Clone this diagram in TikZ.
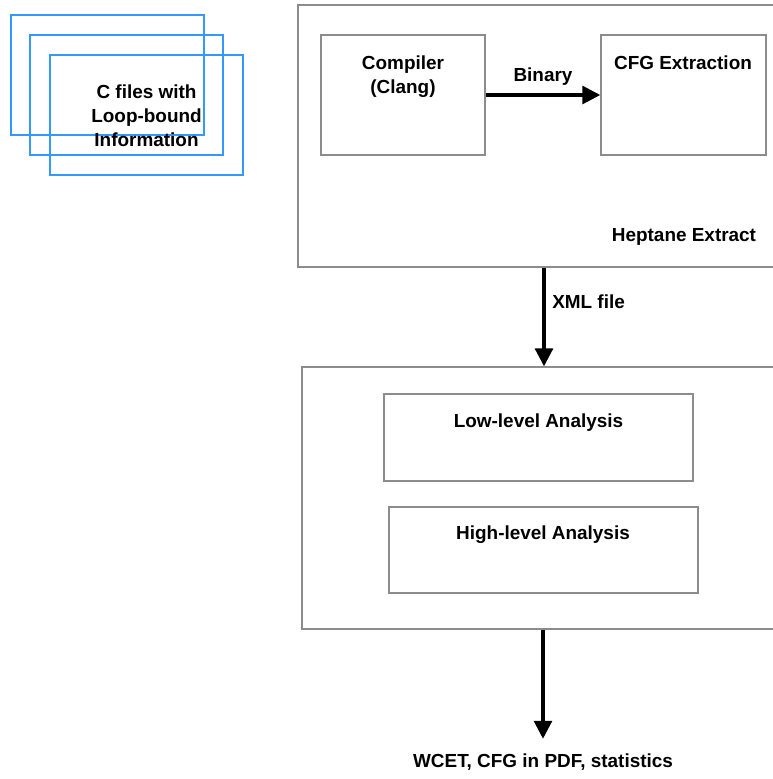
\documentclass[tikz,border=0pt]{standalone}
\usepackage{fontspec}
\setmainfont{Liberation Sans}
\usetikzlibrary{arrows.meta,positioning}
\tikzset{
  graybox/.style={draw=black!45, line width=1.1pt, inner sep=0pt},
  bluebox/.style={draw=blue!50!cyan!80!white, line width=1.4pt},
  lbl/.style={font=\fontsize{14.2}{18}\selectfont\bfseries, inner sep=0pt, align=center},
  arr/.style={line width=2.3pt, -{Triangle[length=13.5pt,width=13.5pt]}},
}
\begin{document}
\begin{tikzpicture}[x=0.75pt,y=-0.75pt]
\useasboundingbox (0,0) rectangle (773,779);
% C files stack
\draw[bluebox] (11,15) rectangle (204,135);
\draw[bluebox] (30,35) rectangle (223,155);
\draw[bluebox] (50,55) rectangle (243,175);
\node[lbl] (cfiles) at (146.5,116) {C files with\\Loop-bound\\Information};
% Heptane extract
\node[graybox, minimum width=500*0.75pt, minimum height=262*0.75pt] (hept) at (548,136) {};
\node[graybox, minimum width=164*0.75pt, minimum height=120*0.75pt] (comp) at (403,95) {};
\node[graybox, minimum width=165*0.75pt, minimum height=120*0.75pt] (cfg) at (683.5,95) {};
\node[lbl] (comptxt) at (403,76.5) {Compiler\\(Clang)};
\node[lbl] (cfgtxt) at (683,62.5) {CFG Extraction};
\node[lbl] (hepttxt) at (684,237) {Heptane Extract};
\draw[arr] (comp.east) -- node[lbl, above=6pt] (bin) {Binary} (cfg.west);
% Analysis
\node[graybox, minimum width=500*0.75pt, minimum height=262*0.75pt] (anal) at (552,498) {};
\node[graybox, minimum width=309*0.75pt, minimum height=87*0.75pt] (low) at (538.5,437.5) {};
\node[graybox, minimum width=309*0.75pt, minimum height=86*0.75pt] (high) at (543.5,550) {};
\node[lbl] (lowtxt) at (538.5,423) {Low-level Analysis};
\node[lbl] (hightxt) at (543,535) {High-level Analysis};
\coordinate (ax) at (544,0);
\draw[arr] (hept.south -| ax) -- (anal.north -| ax);
\node[lbl, anchor=west] (xml) at (552,302) {XML file};
% output
\node[lbl] (out) at (543,762) {WCET, CFG in PDF, statistics};
\draw[arr] (anal.south -| out) -- ([yshift=11pt]out.north);
\end{tikzpicture}
\end{document}
